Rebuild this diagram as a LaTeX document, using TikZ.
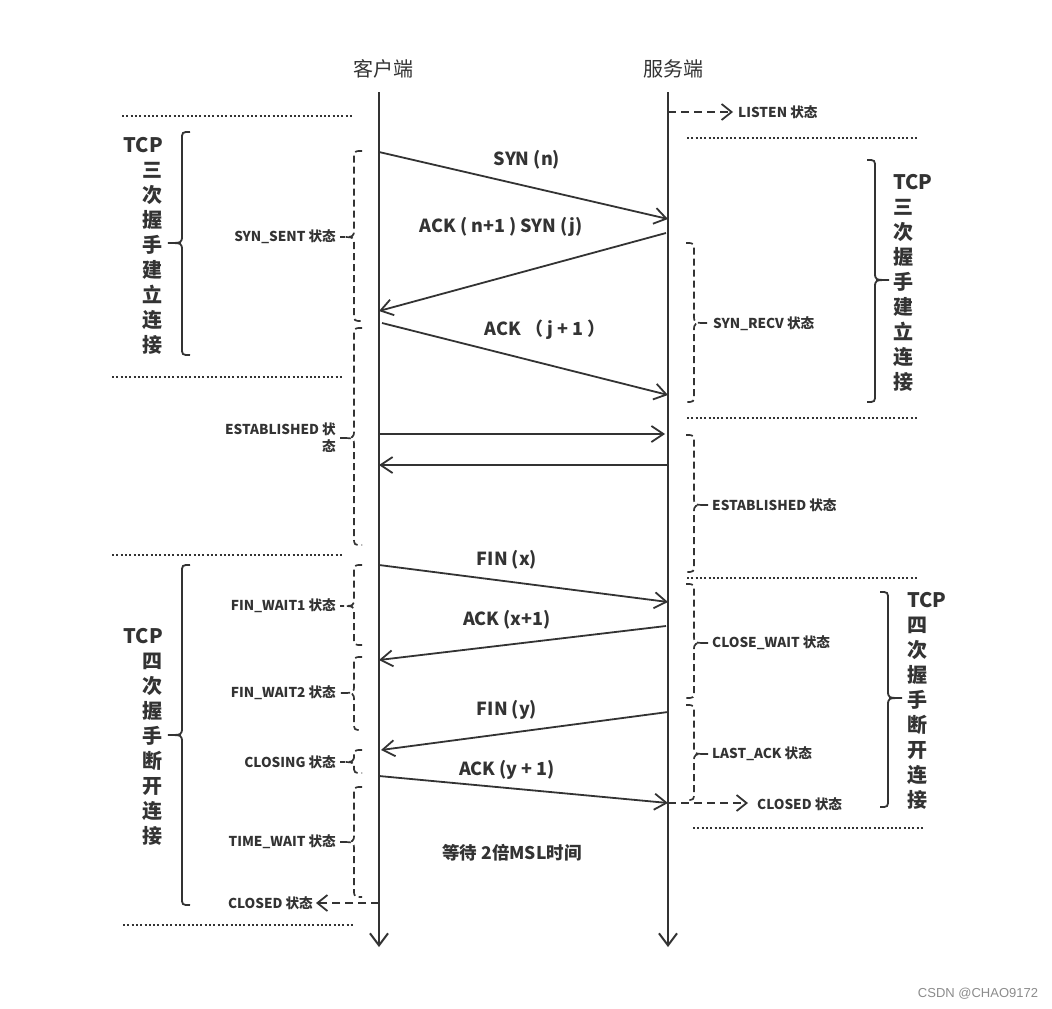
\documentclass[tikz,border=0pt]{standalone}
\usepackage{fontspec}
\setmainfont{Noto Sans CJK SC}
\newfontfamily\wmfont{Liberation Sans}
\usetikzlibrary{arrows.meta}
\definecolor{ink}{HTML}{333333}
\newcommand\mybrc[6]{\draw[#6] ({#1+(#5)*8},#2) .. controls (#1,#2) .. (#1,#2+8) -- (#1,#3-8) .. controls (#1,#3) .. ({#1-(#5)*14},#3) .. controls (#1,#3) .. (#1,#3+8) -- (#1,#4-8) .. controls (#1,#4) .. ({#1+(#5)*8},#4);}
\tikzset{
 life/.style={draw=ink, line width=2pt, -{Straight Barb[length=12pt,width=18pt]}},
 msg/.style={draw=ink, line width=1.8pt, -{Straight Barb[length=12pt,width=16pt]}},
 dots/.style={draw=ink, line width=2pt, dash pattern=on 2pt off 2.3pt},
 dbrace/.style={draw=ink, line width=1.7pt, dash pattern=on 7pt off 4pt},
 sbrace/.style={draw=ink, line width=1.8pt},
 dasharrow/.style={draw=ink, line width=1.8pt, dash pattern=on 8pt off 5pt, -{Straight Barb[length=10pt,width=16pt]}},
 msglabel/.style={text=ink, font=\bfseries\fontsize{18}{21}\selectfont, inner sep=0pt},
 state/.style={text=ink, font=\bfseries\fontsize{13.6}{17}\selectfont, inner sep=0pt},
 big/.style={text=ink, font=\bfseries\fontsize{20}{25}\selectfont, inner sep=0pt},
 head/.style={text=ink, font=\fontsize{20}{24}\selectfont, inner sep=0pt},
}
\begin{document}
\begin{tikzpicture}[x=1pt,y=-1pt]
\useasboundingbox[fill=white] (0,0) rectangle (1052,1009);
% titles
\node[head] (client) at (383,69) {客户端};
\node[head] (server) at (673,69) {服务端};
% lifelines
\coordinate (ctop) at (379,92); \coordinate (cbot) at (379,947);
\coordinate (stop) at (668,92); \coordinate (sbot) at (668,947);
\draw[life] (ctop) -- (cbot);
\draw[life] (stop) -- (sbot);
% dotted separators
\draw[dots] (122,116) -- (353,116);
\draw[dots] (687,138) -- (917,138);
\draw[dots] (112,377) -- (342,377);
\draw[dots] (687,418) -- (917,418);
\draw[dots] (112,555) -- (342,555);
\draw[dots] (687,578) -- (917,578);
\draw[dots] (693,828) -- (923,828);
\draw[dots] (123,925) -- (353,925);
% message coordinates
\coordinate (s0) at (668,112); \coordinate (listen) at (733,112);
\coordinate (c1) at (379,152); \coordinate (s1) at (668,219);
\coordinate (s2) at (666,233); \coordinate (c2) at (379,311);
\coordinate (c3) at (382,323); \coordinate (s3) at (668,395);
\coordinate (c4) at (379,434); \coordinate (s4) at (665,434);
\coordinate (s5) at (668,465); \coordinate (c5) at (379,465);
\coordinate (c6) at (379,565); \coordinate (s6) at (668,602);
\coordinate (s7) at (666,626); \coordinate (c7) at (379,660);
\coordinate (s8) at (668,712); \coordinate (c8) at (381,750);
\coordinate (c9) at (379,776); \coordinate (s9) at (668,803);
\coordinate (sclosed) at (748,803);
\coordinate (c10) at (379,903); \coordinate (cclosed) at (316,903);
% messages
\draw[dasharrow] (s0) -- (listen);
\draw[msg] (c1) -- (s1);
\draw[msg] (s2) -- (c2);
\draw[msg] (c3) -- (s3);
\draw[msg] (c4) -- (s4);
\draw[msg] (s5) -- (c5);
\draw[msg] (c6) -- (s6);
\draw[msg] (s7) -- (c7);
\draw[msg] (s8) -- (c8);
\draw[msg] (c9) -- (s9);
\draw[dasharrow] (s9) -- (sclosed);
\draw[dasharrow] (c10) -- (cclosed);
% message labels
\node[msglabel] (m1) at (527,160) {SYN (n)};
\node[msglabel] (m2) at (501,227) {ACK ( n+1 ) SYN (j)};
\node[msglabel] (m3) at (545,330) {ACK （ j + 1 ）};
\node[msglabel] (m6) at (507,560) {FIN (x)};
\node[msglabel] (m7) at (507,620) {ACK (x+1)};
\node[msglabel] (m8) at (507,710) {FIN (y)};
\node[msglabel] (m9) at (507,770) {ACK (y + 1)};
\node[text=ink, font=\bfseries\fontsize{17.5}{20}\selectfont, inner sep=0pt] (msl) at (512,853) {等待 2倍MSL时间};
% dashed braces client side
\mybrc{354}{151}{237}{321}{1}{dbrace}
\mybrc{354}{328}{438}{545}{1}{dbrace}
\mybrc{354}{565}{606}{645}{1}{dbrace}
\mybrc{354}{657}{693}{730}{1}{dbrace}
\mybrc{354}{750}{762}{773}{1}{dbrace}
\mybrc{354}{787}{842}{897}{1}{dbrace}
% dashed braces server side
\mybrc{694}{243}{323}{402}{-1}{dbrace}
\mybrc{694}{435}{505}{572}{-1}{dbrace}
\mybrc{694}{584}{643}{698}{-1}{dbrace}
\mybrc{694}{705}{754}{800}{-1}{dbrace}
% state labels
\node[state, anchor=east] (sent) at (336,237) {SYN\_SENT 状态};
\node[state, anchor=east, align=right] (estc) at (336,438) {ESTABLISHED 状\\态};
\node[state, anchor=east] (fw1) at (336,606) {FIN\_WAIT1 状态};
\node[state, anchor=east] (fw2) at (336,693) {FIN\_WAIT2 状态};
\node[state, anchor=east] (closing) at (336,762) {CLOSING 状态};
\node[state, anchor=east] (tw) at (336,842) {TIME\_WAIT 状态};
\node[state, anchor=east] (closedc) at (313,903) {CLOSED 状态};
\node[state, anchor=west] (listent) at (738,112) {LISTEN 状态};
\node[state, anchor=west] (recv) at (713,324) {SYN\_RECV 状态};
\node[state, anchor=west] (ests) at (712,505) {ESTABLISHED 状态};
\node[state, anchor=west] (cw) at (712,643) {CLOSE\_WAIT 状态};
\node[state, anchor=west] (la) at (712,754) {LAST\_ACK 状态};
\node[state, anchor=west] (closeds) at (757,804) {CLOSED 状态};
% big braces
\mybrc{182}{132}{243}{355}{1}{sbrace}
\mybrc{182}{565}{735}{905}{1}{sbrace}
\mybrc{875}{160}{280}{402}{-1}{sbrace}
\mybrc{888}{592}{698}{807}{-1}{sbrace}
% big vertical texts
\node[big, anchor=base east] (la0) at (163,152) {TCP};
\foreach \c [count=\i] in {三,次,握,手,建,立,连,接}
  \node[big, anchor=base east] (la\i) at (163,152+25*\i) {\c};
\node[big, anchor=base east] (lb0) at (163,643) {TCP};
\foreach \c [count=\i] in {四,次,握,手,断,开,连,接}
  \node[big, anchor=base east] (lb\i) at (163,643+25*\i) {\c};
\node[big, anchor=base west] (ra0) at (893,189) {TCP};
\foreach \c [count=\i] in {三,次,握,手,建,立,连,接}
  \node[big, anchor=base west] (ra\i) at (893,189+25*\i) {\c};
\node[big, anchor=base west] (rb0) at (907,607) {TCP};
\foreach \c [count=\i] in {四,次,握,手,断,开,连,接}
  \node[big, anchor=base west] (rb\i) at (907,607+25*\i) {\c};
% watermark
\node[text=black!45, font=\wmfont\fontsize{13}{15}\selectfont, inner sep=0pt] (wm) at (978,994) {CSDN @CHAO9172};
\end{tikzpicture}
\end{document}
